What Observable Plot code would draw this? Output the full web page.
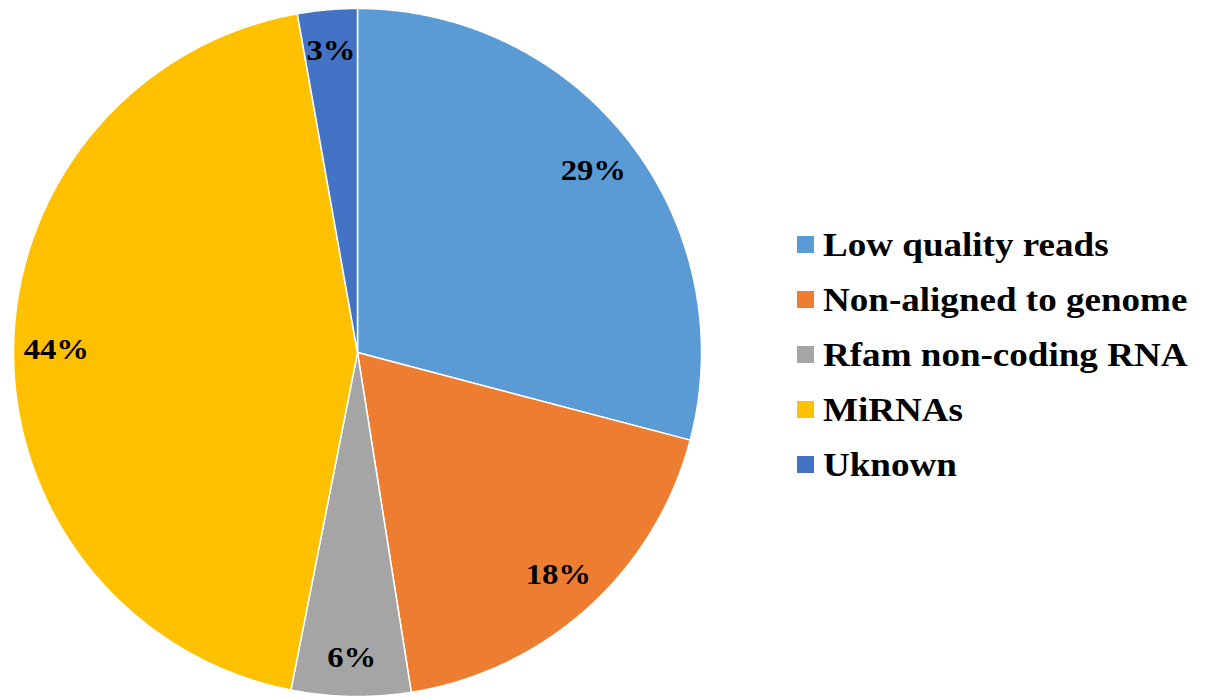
<!DOCTYPE html>
<html>
<head>
<meta charset="utf-8">
<script src="https://cdn.jsdelivr.net/npm/d3@7"></script>
<script src="https://cdn.jsdelivr.net/npm/@observablehq/plot@0.6"></script>
<style>
  html, body { margin: 0; padding: 0; background: #fff; }
  #wrap { position: relative; width: 1209px; height: 698px; overflow: hidden; }
  #legend { position: absolute; left: 797px; top: 217px; font-family: "Liberation Serif", "Times New Roman", serif; font-weight: bold; font-size: 34px; color: #000; }
  .item { display: flex; align-items: center; height: 55px; white-space: nowrap; }
  .sw { width: 17px; height: 17px; margin-right: 9px; flex: none; }
  .lab { display: inline-block; transform: scaleX(1.09); transform-origin: left center; }
</style>
</head>
<body>
<div id="wrap"></div>
<script>
const categories = ["Low quality reads", "Non-aligned to genome", "Rfam non-coding RNA", "MiRNAs", "Uknown"];
const values = [29.1, 18.4, 5.6, 44.1, 2.8];
const percentLabels = ["29%", "18%", "6%", "44%", "3%"];
const colors = ["#5B9BD5", "#ED7D31", "#A5A5A5", "#FFC000", "#4472C4"];

const W = 1209, H = 698;
const cx = 357, cy = 352, R = 344;      // pie placement in pixels
const labelFont = 30;
const stretch = 1.09;

const arcs = d3.pie().sort(null).value(d => d)(values);

// slice outlines as polygons in unit coordinates (y up)
const slicePts = [];
arcs.forEach((a, i) => {
  const name = categories[i];
  slicePts.push({name, x: 0, y: 0});
  const n = Math.max(2, Math.ceil((a.endAngle - a.startAngle) / 0.005));
  for (let k = 0; k <= n; k++) {
    const t = a.startAngle + (a.endAngle - a.startAngle) * k / n;
    slicePts.push({name, x: Math.sin(t), y: Math.cos(t)});
  }
  slicePts.push({name, x: 0, y: 0});
});

// "inside end" labels
const labelPts = arcs.map((a, i) => {
  const mid = (a.startAngle + a.endAngle) / 2;
  const txt = percentLabels[i];
  const halfW = ((txt.length - 1) * 0.5 + 1.0) * labelFont * stretch / 2;
  const halfH = 17;
  const ext = Math.abs(Math.sin(mid)) * halfW + Math.abs(Math.cos(mid)) * halfH;
  const pad = txt.length < 3 ? 22 : 10;
  const rr = (R - pad - ext) / R;
  return {text: txt, x: Math.sin(mid) * rr, y: Math.cos(mid) * rr};
});

const chart = Plot.plot({
  width: W,
  height: H,
  margin: 0,
  x: {domain: [-cx / R, (W - cx) / R], range: [0, W], axis: null},
  y: {domain: [-(H - cy) / R, cy / R], range: [H, 0], axis: null},
  color: {domain: categories, range: colors},
  marks: [
    Plot.line(slicePts, {x: "x", y: "y", z: "name", fill: "name", stroke: "white", strokeWidth: 1.5, strokeLinejoin: "round", curve: "linear"}),
    Plot.text(labelPts, {
      x: "x", y: "y", text: "text", fontSize: labelFont, fontWeight: "bold",
      fontFamily: "Liberation Serif, Times New Roman, serif", fill: "black",
      render(index, scales, values, dimensions, context, next) {
        const g = next(index, scales, values, dimensions, context);
        d3.select(g).selectAll("text").each(function () {
          const t = this.getAttribute("transform");
          if (t) this.setAttribute("transform", t + ` scale(${stretch},1)`);
        });
        return g;
      }
    })
  ]
});

const wrap = document.getElementById("wrap");
wrap.appendChild(chart);

const color = chart.scale("color");
const legend = document.createElement("div");
legend.id = "legend";
color.domain.forEach((c, i) => {
  const item = document.createElement("div");
  item.className = "item";
  const sw = document.createElement("span");
  sw.className = "sw";
  sw.style.background = color.range[i];
  const lab = document.createElement("span");
  lab.className = "lab";
  lab.textContent = c;
  item.appendChild(sw);
  item.appendChild(lab);
  legend.appendChild(item);
});
wrap.appendChild(legend);
</script>
</body>
</html>
